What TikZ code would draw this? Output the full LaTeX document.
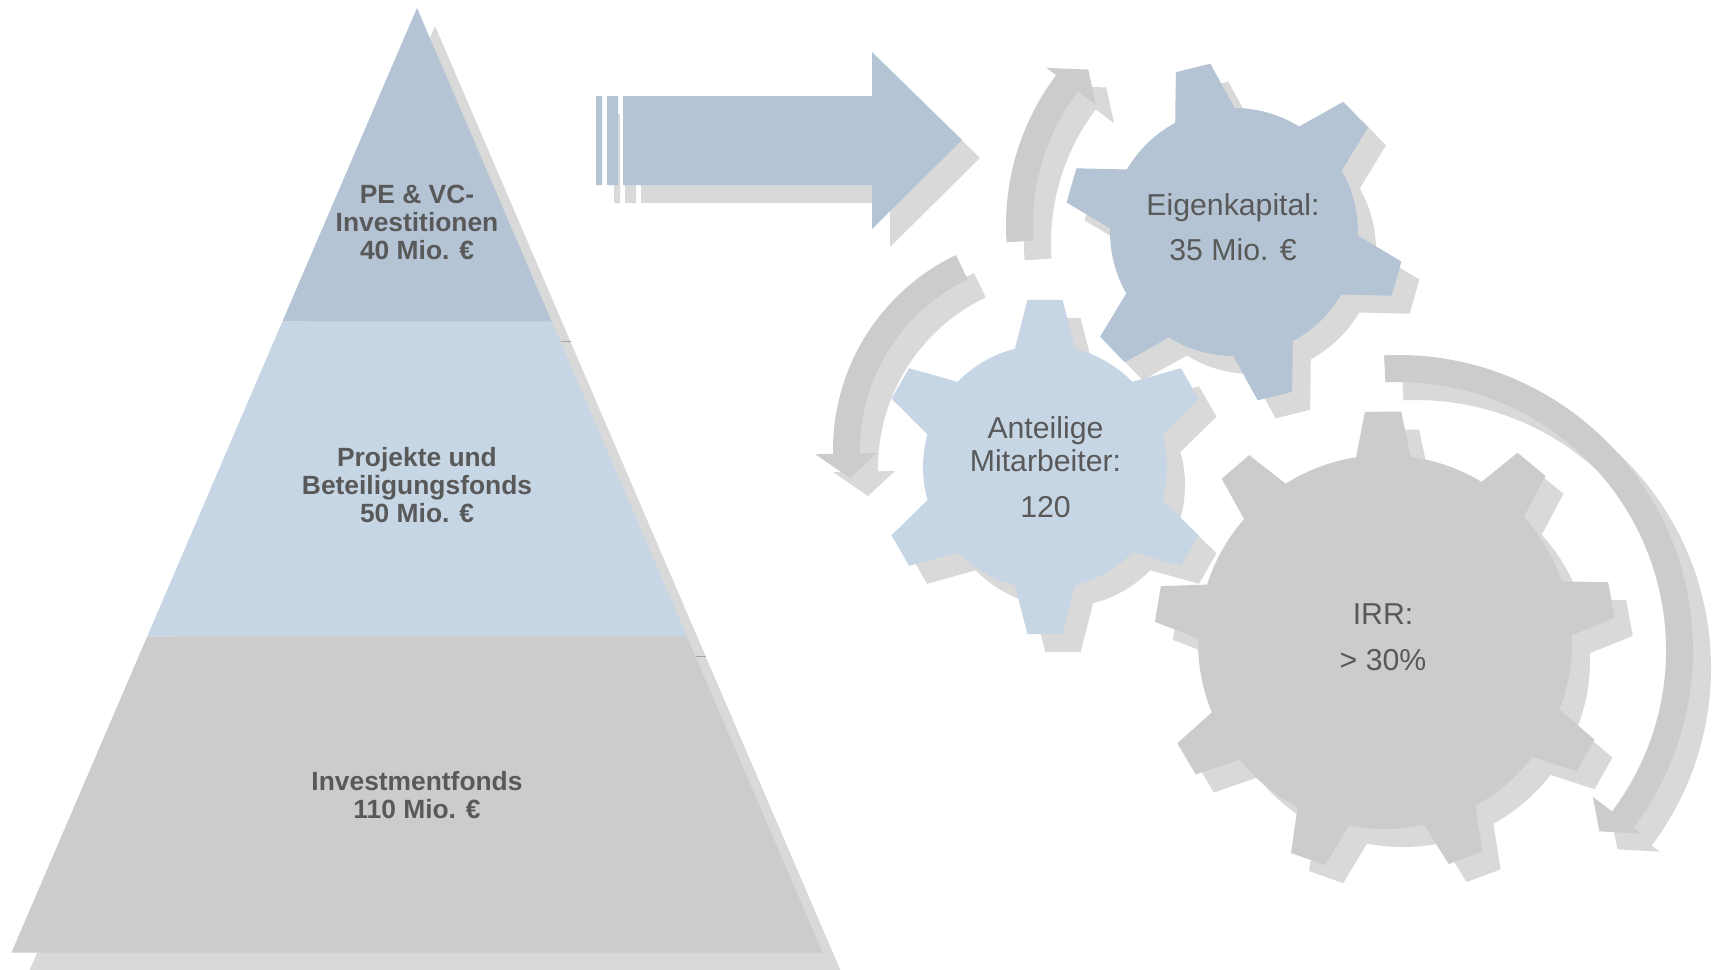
\documentclass[tikz,border=0pt]{standalone}
\usepackage{fontspec}
\setmainfont{Liberation Sans}
\usepackage{xcolor}

\definecolor{blueTop}{HTML}{B4C4D5}
\definecolor{blueMid}{HTML}{C6D6E5}
\definecolor{grayLow}{HTML}{CCCCCC}
\definecolor{shadowGray}{HTML}{D9D9D9}
\definecolor{seamGray}{HTML}{A6A6A6}
\definecolor{textGray}{HTML}{595959}

\newcommand{\gearoutline}[6]{%
  ({#2-#6}:#4)
  \foreach \k [evaluate=\k as \a using #2+(\k-1)*360/#1] in {1,...,#1} {
    -- ({\a-#5}:#3) -- ({\a+#5}:#3) -- ({\a+#6}:#4)
    arc[start angle=\a+#6, end angle=\a+360/#1-#6, radius=#4]
  } -- cycle}

\newcommand{\circarrow}[8]{%
  ({#3}:#2) arc[start angle=#3, end angle=#4, radius=#2]
  -- ({#4}:#8) -- ({#5}:#6) -- ({#4}:#7) -- ({#4}:#1)
  arc[start angle=#4, end angle=#3, radius=#1] -- cycle}

\tikzset{
  tiertext/.style={text=textGray, font=\fontsize{7.5}{7.9}\selectfont\bfseries, align=center, inner sep=0pt},
  geartext/.style={text=textGray, font=\fontsize{8.6}{9.4}\selectfont, align=center, inner sep=0pt},
  shadowed/.style={fill=shadowGray, shift={(18,-18)}}
}

\begin{document}
\begin{tikzpicture}[x=0.01cm,y=0.01cm]
            \useasboundingbox (0,0) rectangle (1715,-969);
            \fill[white] (0,0) rectangle (1715,-969);

            \begin{scope}
                \fill[shadowed] (417,-8) -- (822.6,-952.7) -- (11.4,-952.7) -- cycle;
                \fill[blueTop] (417,-8) -- (551.7,-321.7) -- (282.3,-321.7) -- cycle;
                \fill[blueMid] (282.3,-321.7) -- (551.7,-321.7) -- (686.9,-636.7) -- (147.1,-636.7) -- cycle;
                \fill[grayLow] (147.1,-636.7) -- (686.9,-636.7) -- (822.6,-952.7) -- (11.4,-952.7) -- cycle;
                \draw[seamGray, line width=0.3pt] (560.5,-341.7) -- (571,-341.7);
                \draw[seamGray, line width=0.3pt] (695.5,-656.7) -- (706,-656.7);
            \end{scope}
            \node[tiertext] (pe) at (417,-222.5) {PE \& VC-\\Investitionen\\40 Mio. €};
            \node[tiertext] (proj) at (417,-485.2) {Projekte und\\Beteiligungsfonds\\50 Mio. €};
            \node[tiertext] (inv) at (417,-795.1) {Investmentfonds\\110 Mio. €};

            \begin{scope}
                \fill[shadowed] (623,-96) -- (872,-96) -- (872,-52) -- (962,-140) -- (872,-229) -- (872,-185) -- (623,-185) -- cycle
                    (596,-96) rectangle (602,-185) (607,-96) rectangle (618,-185);
                \fill[blueTop] (623,-96) -- (872,-96) -- (872,-52) -- (962,-140) -- (872,-229) -- (872,-185) -- (623,-185) -- cycle
                    (596,-96) rectangle (602,-185) (607,-96) rectangle (618,-185);
            \end{scope}

            \begin{scope}
                \fill[shadowed, shift={(1255,-225)}] \circarrow{222}{249}{184}{143}{137}{228}{199}{261};
                \fill[grayLow, shift={(1255,-225)}] \circarrow{222}{249}{184}{143}{137}{228}{199}{261};
                \fill[shadowed, shift={(1049,-450)}] \circarrow{189}{216}{115.5}{181}{188}{201}{172}{234};
                \fill[grayLow, shift={(1049,-450)}] \circarrow{189}{216}{115.5}{181}{188}{201}{172}{234};
                \fill[shadowed, shift={(1398,-650)}] \circarrow{268}{295}{92.7}{-37}{-42}{271}{244}{305};
                \fill[grayLow, shift={(1398,-650)}] \circarrow{268}{295}{92.7}{-37}{-42}{271}{244}{305};
            \end{scope}

            \begin{scope}
                \fill[shadowed, shift={(1234,-232)}] \gearoutline{6}{104}{170}{124}{6}{14.3};
                \fill[blueTop, shift={(1234,-232)}] \gearoutline{6}{104}{170}{124}{6}{14.3};
                \fill[shadowed, shift={(1045,-467)}] \gearoutline{6}{90}{168}{122}{6}{14.3};
                \fill[blueMid, shift={(1045,-467)}] \gearoutline{6}{90}{168}{122}{6}{14.3};
                \fill[shadowed, shift={(1385,-642)}] \gearoutline{9}{10.5}{231}{187}{4.5}{8.4};
                \fill[grayLow, shift={(1385,-642)}] \gearoutline{9}{10.5}{231}{187}{4.5}{8.4};
            \end{scope}
            \node[geartext] (ek) at (1233,-227.5) {Eigenkapital:\\[3.4pt]35 Mio. €};
            \node[geartext] (ma) at (1045.5,-466.8) {Anteilige\\Mitarbeiter:\\[3.6pt]120};
            \node[geartext] (irr) at (1383,-637) {IRR:\\[3.6pt]> 30\%};
        \end{tikzpicture}
\end{document}
